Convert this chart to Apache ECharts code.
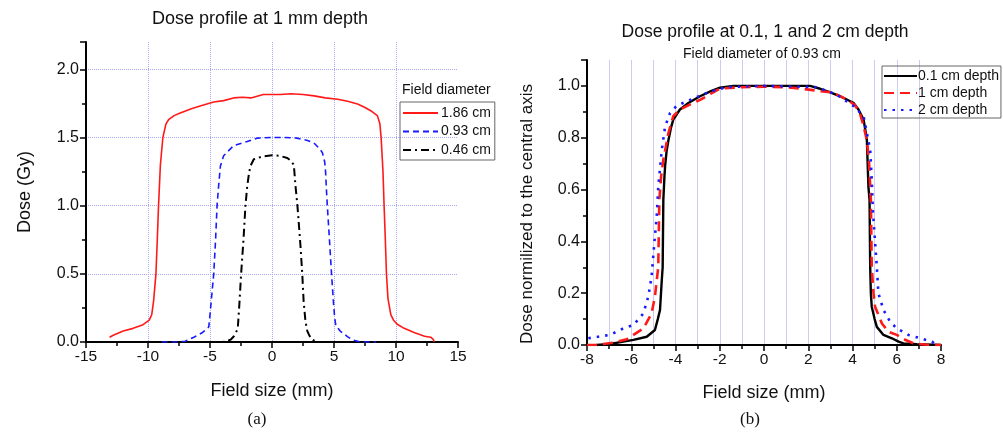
<!DOCTYPE html>
<html>
<head>
<meta charset="utf-8">
<script src="https://cdn.jsdelivr.net/npm/echarts@6/dist/echarts.min.js"></script>
<style>
  html, body { margin: 0; padding: 0; background: #fff; }
  #chart { width: 1003px; height: 433px; }
</style>
</head>
<body>
<div id="chart"></div>
<script>
// (a) dose profile at 1 mm depth, x in mm, y in Gy
const d186X = [-13.1, -12.8, -12.0, -11.2, -10.4, -9.9, -9.7, -9.55, -9.36, -9.25, -9.15, -9.0, -8.8, -8.55, -8.34, -7.9, -7.4, -6.5, -5.8, -4.7, -3.9, -3.1, -2.4, -1.7, -0.7, 0, 0.7, 1.5, 2.5, 3.4, 4.3, 5.3, 6.1, 6.9, 7.5, 7.96, 8.5, 8.7, 8.8, 8.95, 9.04, 9.14, 9.23, 9.35, 9.58, 9.8, 10.1, 10.66, 11.46, 12.3, 12.8, 13.0, 13.1];
const d186Y = [0.035, 0.05, 0.08, 0.1, 0.127, 0.16, 0.2, 0.3, 0.5, 0.75, 1.0, 1.3, 1.5, 1.6, 1.63, 1.66, 1.68, 1.71, 1.73, 1.76, 1.77, 1.79, 1.795, 1.79, 1.815, 1.815, 1.815, 1.82, 1.815, 1.805, 1.79, 1.78, 1.765, 1.745, 1.72, 1.696, 1.66, 1.6, 1.5, 1.25, 1.0, 0.75, 0.5, 0.32, 0.2, 0.16, 0.13, 0.1, 0.07, 0.042, 0.035, 0.02, 0.0];

const d093X = [-8.9, -7.7, -7.0, -6.3, -5.6, -5.1, -5.0, -4.85, -4.7, -4.55, -4.43, -4.3, -4.16, -3.9, -3.09, -2.0, -1.2, 0, 1.0, 2.0, 2.8, 3.38, 3.8, 4.06, 4.25, 4.32, 4.4, 4.46, 4.6, 4.8, 4.95, 5.05, 5.15, 5.5, 6.08, 6.5, 7.15, 8.4];
const d093Y = [0, 0, 0.005, 0.035, 0.07, 0.11, 0.2, 0.35, 0.5, 0.75, 1.0, 1.15, 1.29, 1.366, 1.44, 1.47, 1.495, 1.5, 1.5, 1.495, 1.48, 1.46, 1.42, 1.39, 1.32, 1.25, 1.1, 1.0, 0.8, 0.5, 0.3, 0.18, 0.12, 0.08, 0.04, 0.015, 0.0, 0];

const d046X = [-4.97, -4.0, -3.62, -3.3, -3.09, -2.9, -2.76, -2.65, -2.49, -2.3, -2.14, -2.0, -1.85, -1.74, -1.47, -0.8, 0, 0.6, 1.23, 1.5, 1.76, 1.9, 2.05, 2.12, 2.3, 2.44, 2.55, 2.7, 2.85, 2.98, 3.2, 3.5, 3.6];
const d046Y = [0, 0, 0.005, 0.02, 0.04, 0.07, 0.1, 0.25, 0.5, 0.75, 1.0, 1.14, 1.24, 1.29, 1.34, 1.36, 1.37, 1.365, 1.35, 1.33, 1.30, 1.14, 1.0, 0.92, 0.7, 0.5, 0.3, 0.15, 0.08, 0.054, 0.02, 0.005, 0];

// (b) normalized dose, field diameter 0.93 cm
const dp01X = [-7.56, -6.96, -6.36, -5.9, -5.3, -4.93, -4.8, -4.7, -4.62, -4.58, -4.55, -4.5, -4.47, -4.4, -4.32, -4.2, -4.1, -3.8, -3.4, -2.89, -2.4, -1.99, -1.39, 0, 1.0, 2.08, 2.54, 3.0, 3.44, 4.04, 4.27, 4.5, 4.6, 4.65, 4.72, 4.77, 4.8, 4.83, 4.87, 5.0, 5.1, 5.4, 5.78, 6.08, 6.3, 6.9, 8.0];
const dp01Y = [0, 0.004, 0.013, 0.02, 0.032, 0.058, 0.1, 0.135, 0.25, 0.30, 0.56, 0.65, 0.69, 0.75, 0.79, 0.84, 0.87, 0.909, 0.935, 0.96, 0.98, 0.993, 1.0, 1.0, 1.0, 1.0, 0.989, 0.975, 0.96, 0.935, 0.909, 0.87, 0.82, 0.79, 0.61, 0.56, 0.30, 0.2, 0.148, 0.1, 0.07, 0.039, 0.026, 0.013, 0.006, 0.003, 0];

const dp1X = [-8.0, -7.6, -7.26, -6.81, -6.2, -5.9, -5.45, -5.08, -4.93, -4.78, -4.73, -4.65, -4.55, -4.32, -4.1, -3.8, -3.3, -2.89, -2.4, -1.99, -1.0, 0, 1.0, 1.63, 2.53, 3.13, 3.74, 4.12, 4.35, 4.5, 4.65, 4.75, 4.8, 4.83, 4.87, 4.95, 5.02, 5.33, 5.63, 6.0, 6.38, 6.76, 7.36, 8.0];
const dp1Y = [0, 0, 0.004, 0.009, 0.022, 0.039, 0.064, 0.122, 0.187, 0.30, 0.56, 0.65, 0.715, 0.818, 0.883, 0.909, 0.93, 0.946, 0.97, 0.99, 0.995, 0.997, 0.995, 0.99, 0.98, 0.974, 0.948, 0.925, 0.89, 0.845, 0.79, 0.7, 0.61, 0.56, 0.30, 0.2, 0.148, 0.083, 0.051, 0.039, 0.02, 0.006, 0.001, 0];

const dp2X = [-7.94, -7.49, -6.96, -6.36, -5.9, -5.45, -5.23, -5.08, -4.96, -4.85, -4.78, -4.62, -4.47, -4.25, -3.95, -3.34, -2.44, -1.68, 0, 1.0, 2.39, 3.29, 4.04, 4.5, 4.65, 4.8, 4.87, 4.92, 4.95, 5.1, 5.17, 5.4, 5.7, 6.0, 6.53, 7.06, 7.59, 7.7];
const dp2Y = [0.026, 0.032, 0.039, 0.064, 0.077, 0.122, 0.187, 0.264, 0.39, 0.495, 0.61, 0.753, 0.843, 0.895, 0.923, 0.946, 0.978, 0.995, 1.0, 0.998, 0.995, 0.966, 0.923, 0.883, 0.818, 0.753, 0.637, 0.521, 0.483, 0.30, 0.20, 0.135, 0.09, 0.064, 0.039, 0.026, 0.013, 0.006];

const zip = (xs, ys) => xs.map((x, i) => [x, ys[i]]);

const chart = echarts.init(document.getElementById('chart'), null, { renderer: 'canvas' });

const axisLine = { onZero: false, lineStyle: { color: '#000', width: 2 } };
const tickLbl = { fontSize: 16, color: '#111', margin: 7 };

const option = {
    animation: false,
    backgroundColor: '#fff',
    textStyle: { fontFamily: 'Liberation Sans' },
    title: [
        { text: 'Dose profile at 1 mm depth', left: 255, top: 5, textAlign: 'center',
          textStyle: { fontSize: 18, fontWeight: 'normal', color: '#111' } },
        { text: 'Dose profile at 0.1, 1 and 2 cm depth', left: 760, top: 18, textAlign: 'center',
          textStyle: { fontSize: 17.5, fontWeight: 'normal', color: '#111' } },
        { text: 'Field diameter of 0.93 cm', left: 757, top: 42, textAlign: 'center',
          textStyle: { fontSize: 14, fontWeight: 'normal', color: '#111' } },
        { text: 'Field diameter', left: 397, top: 78,
          textStyle: { fontSize: 14, fontWeight: 'normal', color: '#111' } },
        { text: '(a)', left: 252, top: 406, textAlign: 'center',
          textStyle: { fontSize: 17, fontWeight: 'normal', color: '#111', fontFamily: 'Liberation Serif' } },
        { text: '(b)', left: 745, top: 406, textAlign: 'center',
          textStyle: { fontSize: 17, fontWeight: 'normal', color: '#111', fontFamily: 'Liberation Serif' } }
    ],
    legend: [
        {
            data: ['1.86 cm', '0.93 cm', '0.46 cm'],
            orient: 'vertical', left: 400, top: 102,
            itemWidth: 35, itemHeight: 10, itemGap: 4.5,
            padding: [4, 4, 3, 2],
            borderColor: '#666', borderWidth: 1,
            itemStyle: { opacity: 0 },
            textStyle: { fontSize: 14, color: '#111', padding: [0, 0, 0, -2] }
        },
        {
            data: ['0.1 cm depth', '1 cm depth', '2 cm depth'],
            orient: 'vertical', left: 882, top: 66,
            itemWidth: 33, itemHeight: 10, itemGap: 3,
            padding: [3, 2, 1, 1],
            borderColor: '#666', borderWidth: 1,
            itemStyle: { opacity: 0 },
            textStyle: { fontSize: 14, color: '#111', padding: [0, 0, 0, -4] }
        }
    ],
    graphic: [
        { type: 'text', x: 527, y: 214, rotation: Math.PI / 2,
          style: { text: 'Dose normilized to the central axis', align: 'center', verticalAlign: 'middle',
                   fontSize: 17, fontFamily: 'Liberation Sans', fill: '#111' } }
    ],
    grid: [
        { left: 86, right: 545, top: 42, bottom: 91 },
        { left: 587, right: 62, top: 60, bottom: 88 }
    ],
    xAxis: [
        {
            gridIndex: 0, type: 'value', min: -15, max: 15, interval: 5,
            axisLine: axisLine,
            axisTick: { length: 6, lineStyle: { color: '#000', width: 1.5 } },
            minorTick: { show: true, splitNumber: 2, length: 4, lineStyle: { color: '#000', width: 1.5 } },
            splitLine: { show: true, showMinLine: false, showMaxLine: false,
                         lineStyle: { type: 'dotted', color: '#a8a8f4', width: 1 } },
            axisLabel: { fontSize: 15.5, color: '#111', margin: 7 },
            name: 'Field size (mm)', nameLocation: 'middle', nameGap: 40,
            nameTextStyle: { fontSize: 18, color: '#111' }
        },
        {
            gridIndex: 1, type: 'value', min: -8, max: 8, interval: 2,
            axisLine: axisLine,
            axisTick: { length: 6, lineStyle: { color: '#000', width: 1.5 } },
            minorTick: { show: true, splitNumber: 2, length: 4, lineStyle: { color: '#000', width: 1.5 } },
            splitLine: { show: true, showMinLine: false, showMaxLine: false,
                         lineStyle: { color: '#ccccf2', width: 1 } },
            minorSplitLine: { show: true, lineStyle: { color: '#ccccf2', width: 1 } },
            axisLabel: { fontSize: 15.5, color: '#111', margin: 7 },
            name: 'Field size (mm)', nameLocation: 'middle', nameGap: 39,
            nameTextStyle: { fontSize: 18, color: '#111' }
        }
    ],
    yAxis: [
        {
            gridIndex: 0, type: 'value', min: 0, max: 2.2, interval: 0.5,
            axisLine: axisLine,
            axisTick: { length: 6, lineStyle: { color: '#000', width: 1.5 } },
            minorTick: { show: true, splitNumber: 2, length: 4, lineStyle: { color: '#000', width: 1.5 } },
            splitLine: { show: true, showMinLine: false, showMaxLine: false,
                         lineStyle: { type: 'dotted', color: '#a8a8f4', width: 1 } },
            axisLabel: Object.assign({ showMaxLabel: false, formatter: v => v.toFixed(1) }, tickLbl),
            name: 'Dose (Gy)', nameLocation: 'middle', nameGap: 52,
            nameTextStyle: { fontSize: 18, color: '#111' }
        },
        {
            gridIndex: 1, type: 'value', min: 0, max: 1.1, interval: 0.2,
            axisLine: axisLine,
            axisTick: { length: 6, lineStyle: { color: '#000', width: 1.5 } },
            minorTick: { show: true, splitNumber: 2, length: 4, lineStyle: { color: '#000', width: 1.5 } },
            splitLine: { show: false },
            axisLabel: Object.assign({ showMaxLabel: false, formatter: v => v.toFixed(1) }, tickLbl)
        }
    ],
    series: [
        { name: '1.86 cm', type: 'line', xAxisIndex: 0, yAxisIndex: 0, symbol: 'none',
          data: zip(d186X, d186Y), lineStyle: { color: '#ff1a1a', width: 1.6 }, itemStyle: { color: '#ff1a1a' } },
        { name: '0.93 cm', type: 'line', xAxisIndex: 0, yAxisIndex: 0, symbol: 'none',
          data: zip(d093X, d093Y), lineStyle: { color: '#1a1aff', width: 1.6, type: [6, 4] }, itemStyle: { color: '#1a1aff' } },
        { name: '0.46 cm', type: 'line', xAxisIndex: 0, yAxisIndex: 0, symbol: 'none',
          data: zip(d046X, d046Y), lineStyle: { color: '#000', width: 2, type: [8, 4, 2, 4] }, itemStyle: { color: '#000' } },
        { name: '0.1 cm depth', type: 'line', xAxisIndex: 1, yAxisIndex: 1, symbol: 'none',
          data: zip(dp01X, dp01Y), lineStyle: { color: '#000', width: 2.4 }, itemStyle: { color: '#000' } },
        { name: '1 cm depth', type: 'line', xAxisIndex: 1, yAxisIndex: 1, symbol: 'none',
          data: zip(dp1X, dp1Y), lineStyle: { color: '#ff1a1a', width: 2.6, type: [10, 6] }, itemStyle: { color: '#ff1a1a' } },
        { name: '2 cm depth', type: 'line', xAxisIndex: 1, yAxisIndex: 1, symbol: 'none',
          data: zip(dp2X, dp2Y), lineStyle: { color: '#1a1aff', width: 2.6, type: [2.5, 6] }, itemStyle: { color: '#1a1aff' } }
    ]
};

chart.setOption(option);
</script>
</body>
</html>
